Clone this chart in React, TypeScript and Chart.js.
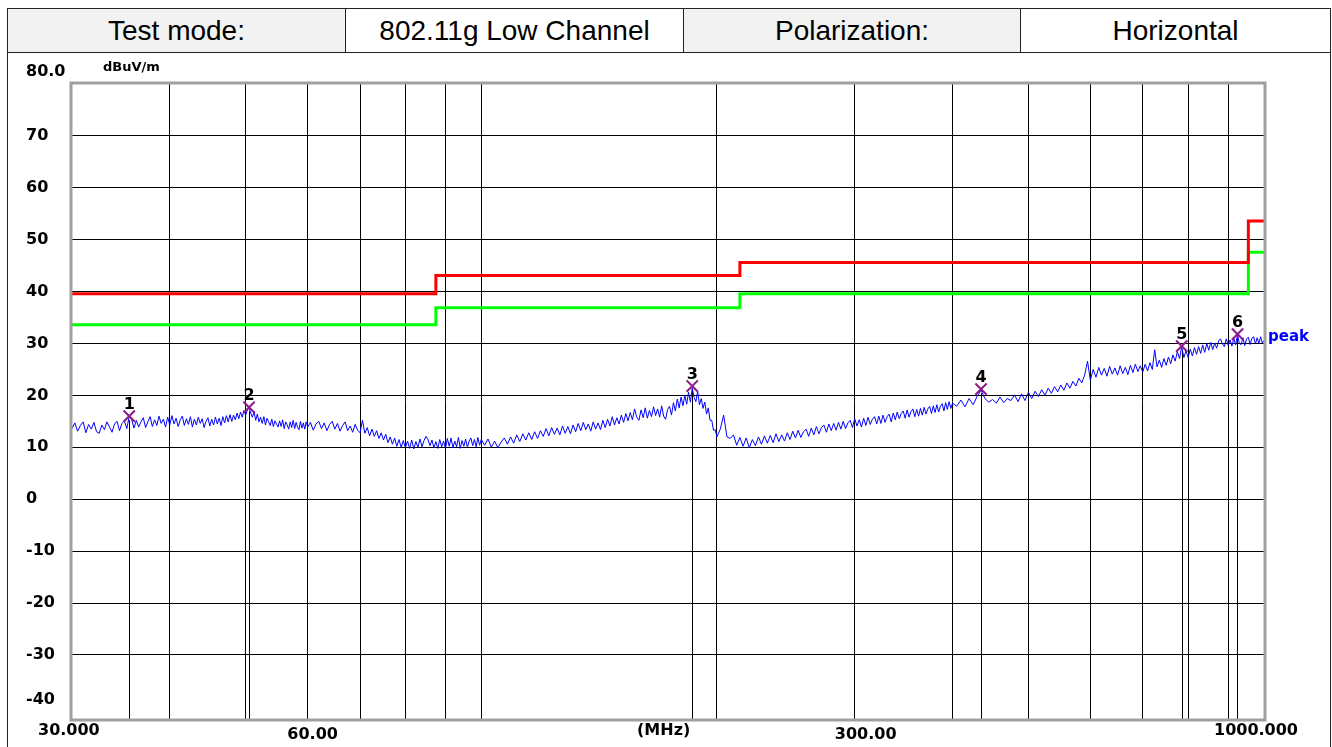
import React, { useEffect, useRef } from "react";
import { Chart, registerables } from "chart.js";

Chart.register(...registerables);

// ---- header ----
const HEADER_CELLS = ["Test mode:", "802.11g Low Channel", "Polarization:", "Horizontal"];

// ---- axes ----
const Y_TICKS = [80, 70, 60, 50, 40, 30, 20, 10, 0, -10, -20, -30, -40];
const Y_GRID = [70, 60, 50, 40, 30, 20, 10, 0, -10, -20, -30];
const X_GRID = [40, 50, 60, 70, 80, 90, 100, 200, 300, 400, 500, 600, 700, 800, 900];
const X_LABEL_TEXT = ["30.000", "60.00", "(MHz)", "300.00", "1000.000"];
const X_LABEL_FREQ = [30, 60, 171, 300, 1000];

// ---- limit lines (MHz, dBuV/m) ----
const LIMIT_FREQ = [30, 87.5, 87.5, 214, 214, 955, 955, 1000];
const LIMIT_QP = [39.6, 39.6, 43.1, 43.1, 45.6, 45.6, 53.6, 53.6];
const LIMIT_MARGIN = [33.6, 33.6, 36.9, 36.9, 39.6, 39.6, 47.6, 47.6];

// ---- peak trace: sweep segments (start MHz, step MHz) and read levels ----
const SEG_START = [30, 60.5, 101, 202, 405];
const SEG_STEP = [0.25, 0.5, 1, 2, 5];
const LEVELS_A = [
  13.6, 14.7, 13.1, 14.2, 14.9, 12.8, 14.4, 13.5, 14.8, 13.0, 12.7, 14.3, 13.4, 14.9, 13.9, 12.9, 14.5, 15.0, 13.2, 14.6,
  15.1, 13.6, 16.0, 15.4, 13.7, 15.2, 13.9, 14.9, 15.7, 13.8, 14.9, 15.9, 14.0, 15.3, 14.2, 16.0, 14.6, 15.4, 13.9, 15.8,
  14.3, 16.1, 14.5, 15.6, 14.0, 15.3, 16.0, 14.2, 15.5, 14.4, 15.9, 13.9, 15.4, 14.3, 15.8, 14.6, 15.5, 13.8, 15.0, 15.7,
  14.1, 15.4, 14.3, 15.8, 14.5, 15.6, 14.2, 15.9, 14.7, 16.1, 14.9, 16.3, 15.0, 16.2, 15.3, 16.6, 15.5, 16.8, 15.8, 17.1,
  16.2, 17.2, 17.6, 16.6, 15.8, 16.9, 15.2, 16.4, 14.9, 15.8, 14.6, 15.9, 14.3, 15.6, 14.9, 14.2, 15.4, 14.0, 15.1, 14.5,
  13.9, 15.1, 14.0, 15.3, 13.6, 14.9, 14.3, 13.5, 14.9, 13.8, 15.2, 13.6, 14.8, 13.9, 13.4, 15.0, 13.7, 14.7, 13.5, 14.9,
  13.9,
];
const LEVELS_B = [
  14.8, 13.3, 14.5, 15.0, 13.6, 14.7, 13.2, 14.4, 15.0, 13.5, 14.6, 13.1, 14.2, 14.9, 13.2, 14.1, 12.9, 14.4, 13.3, 12.8,
  15.2, 12.7, 13.8, 12.2, 13.5, 12.1, 13.2, 11.7, 12.8, 11.4, 12.5, 10.9, 12.0, 10.6, 11.8, 10.2, 11.5, 10.0, 11.3, 9.9,
  11.2, 9.8, 11.4, 9.7, 11.1, 10.0, 11.6, 10.1, 11.3, 12.1, 11.5, 10.3, 11.4, 9.9, 11.1, 9.8, 11.5, 10.1, 11.2, 9.7,
  11.7, 10.2, 11.8, 9.9, 11.2, 10.1, 11.9, 9.8, 11.3, 10.2, 11.6, 10.0, 11.2, 11.8, 10.3, 11.5, 10.1, 11.9, 10.4, 11.5,
];
const LEVELS_C = [
  10.4, 11.6, 10.0, 11.2, 9.9, 11.0, 11.8, 10.6, 12.0, 10.8, 12.4, 11.1, 12.6, 11.4, 12.8, 11.5, 13.0, 11.7, 13.2, 12.1,
  13.6, 12.2, 13.8, 12.5, 13.7, 12.4, 14.1, 12.7, 14.0, 12.6, 14.3, 13.0, 14.6, 13.2, 14.8, 13.4, 14.5, 13.1, 14.9, 13.5,
  14.7, 13.4, 15.2, 13.8, 15.4, 14.1, 15.9, 14.3, 15.7, 14.5, 16.2, 14.8, 16.5, 15.1, 16.7, 15.3, 17.4, 15.8, 15.2, 17.2,
  15.7, 17.6, 15.6, 17.1, 15.9, 17.8, 16.1, 17.4, 15.8, 18.0, 16.0, 15.4, 17.3, 17.9, 16.2, 18.6, 17.0, 19.3, 17.6, 19.7,
  18.0, 20.0, 18.3, 20.6, 18.7, 21.4, 19.6, 18.8, 20.8, 18.2, 19.4, 17.5, 18.7, 16.4, 17.6, 15.2, 15.2, 13.3, 13.4, 12.0,
];
const LEVELS_D = [
  13.5, 16.2, 12.0, 11.7, 12.4, 10.4, 11.9, 10.2, 11.8, 9.9, 11.5, 10.3, 12.0, 10.6, 12.2, 10.8, 12.3, 10.9, 12.6, 11.1,
  12.4, 11.2, 12.8, 11.5, 13.1, 11.8, 13.3, 11.9, 13.0, 13.5, 12.1, 13.7, 12.4, 14.0, 12.6, 13.8, 14.3, 12.9, 14.5, 13.2,
  14.6, 13.3, 14.8, 13.5, 15.0, 13.6, 14.7, 15.2, 13.8, 15.5, 14.1, 15.3, 13.9, 15.6, 14.2, 15.8, 14.4, 15.4, 15.9, 14.5,
  16.0, 14.6, 16.2, 14.8, 15.9, 16.4, 14.9, 16.6, 15.3, 16.8, 15.5, 16.5, 17.0, 15.6, 17.2, 15.8, 16.9, 17.4, 15.9, 17.3,
  16.0, 17.5, 16.2, 17.7, 16.4, 17.4, 17.9, 16.5, 18.0, 16.7, 18.2, 16.8, 17.9, 18.4, 17.0, 18.6, 17.3, 18.8, 17.5, 18.5,
];
const LEVELS_E = [
  17.9, 19.1, 17.8, 19.4, 18.2, 19.8, 21.0, 19.4, 18.7, 19.2, 18.5, 19.7, 18.6, 19.4, 19.0, 20.1, 18.8, 20.3, 19.0, 20.6,
  19.4, 20.8, 19.8, 21.1, 20.0, 21.4, 20.4, 21.7, 20.7, 22.0, 21.0, 22.4, 21.4, 22.7, 21.8, 23.3, 22.4, 23.9, 26.6, 22.9,
  25.0, 23.5, 25.4, 23.9, 25.2, 23.7, 25.6, 24.1, 25.3, 23.9, 25.7, 24.2, 25.4, 24.0, 25.8, 24.4, 26.0, 24.6, 25.7, 24.5,
  26.0, 24.7, 26.3, 25.0, 28.8, 25.5, 26.8, 25.4, 27.1, 25.8, 27.4, 26.1, 27.8, 26.6, 28.4, 27.1, 29.4, 27.3, 28.6, 27.3,
  28.9, 27.6, 29.2, 27.9, 29.4, 28.1, 29.7, 28.3, 30.0, 28.7, 30.2, 28.8, 30.1, 29.1, 30.5, 30.9, 29.9, 29.4, 30.9, 29.6,
  30.7, 29.5, 31.0, 29.7, 31.7, 30.0, 29.8, 31.1, 29.6, 30.9, 31.2, 29.8, 31.0, 31.3, 29.9, 31.1, 30.0, 31.3, 30.1, 30.6,
];
const SEG_LEVELS = [LEVELS_A, LEVELS_B, LEVELS_C, LEVELS_D, LEVELS_E];

// ---- markers ----
const MARKER_NO = ["1", "2", "3", "4", "5", "6"];
const MARKER_FREQ = [35.5, 50.5, 186.0, 435.0, 785.0, 925.0];
const MARKER_LEVEL = [16.0, 17.7, 21.8, 21.2, 29.5, 31.8];

const LABEL_FONT = 'bold 16px "DejaVu Sans", Verdana, sans-serif';

const overlayPlugin = {
  id: "overlay",
  beforeDatasetsDraw(chart: any) {
    const { ctx, chartArea, scales } = chart;
    const xs = scales.x;
    const ys = scales.y;
    ctx.save();
    ctx.strokeStyle = "#000";
    ctx.lineWidth = 1;
    MARKER_FREQ.forEach((f, i) => {
      const x = Math.round(xs.getPixelForValue(f)) + 0.5;
      const y = ys.getPixelForValue(MARKER_LEVEL[i]) + 4;
      ctx.beginPath();
      ctx.moveTo(x, y);
      ctx.lineTo(x, chartArea.bottom);
      ctx.stroke();
    });
    ctx.restore();
  },
  afterDraw(chart: any) {
    const { ctx, chartArea, scales } = chart;
    const xs = scales.x;
    const ys = scales.y;
    ctx.save();
    // plot frame
    ctx.strokeStyle = "#a0a0a0";
    ctx.lineWidth = 3;
    ctx.strokeRect(chartArea.left - 1, chartArea.top - 1, chartArea.right - chartArea.left + 2, chartArea.bottom - chartArea.top + 2);

    ctx.fillStyle = "#000";
    ctx.font = LABEL_FONT;
    // y labels
    ctx.textAlign = "left";
    ctx.textBaseline = "middle";
    Y_TICKS.forEach((v) => {
      let y = ys.getPixelForValue(v);
      if (v === 80) y -= 12;
      if (v === -40) y -= 7;
      ctx.fillText(v === 80 ? "80.0" : String(v), 18, y);
    });
    // unit
    ctx.font = 'bold 13px "DejaVu Sans", Verdana, sans-serif';
    ctx.textAlign = "left";
    ctx.fillText("dBuV/m", 95, 16);
    // x labels
    ctx.font = LABEL_FONT;
    ctx.textBaseline = "middle";
    X_LABEL_TEXT.forEach((t, i) => {
      const x = xs.getPixelForValue(X_LABEL_FREQ[i]);
      const low = i === 1 || i === 3;
      const y = chartArea.bottom + 12 + (low ? 4 : 0);
      if (i === 0) {
        ctx.textAlign = "left";
        ctx.fillText(t, x - 34, y);
      } else if (i === X_LABEL_TEXT.length - 1) {
        ctx.textAlign = "right";
        ctx.fillText(t, x + 34, y);
      } else {
        ctx.textAlign = "center";
        ctx.fillText(t, x + (i === 3 ? 11 : i === 1 ? 5 : 0), y);
      }
    });
    // marker numbers
    ctx.textAlign = "center";
    ctx.textBaseline = "alphabetic";
    MARKER_FREQ.forEach((f, i) => {
      ctx.fillText(MARKER_NO[i], xs.getPixelForValue(f), ys.getPixelForValue(MARKER_LEVEL[i]) - 7);
    });
    // trace name
    ctx.fillStyle = "#0000ff";
    ctx.font = 'bold 15px "DejaVu Sans", Verdana, sans-serif';
    ctx.textAlign = "left";
    ctx.textBaseline = "middle";
    const lastSeg = SEG_LEVELS[SEG_LEVELS.length - 1];
    ctx.fillText("peak", chartArea.right + 4, ys.getPixelForValue(lastSeg[lastSeg.length - 1]) - 3);
    ctx.restore();
  },
};

export default function App() {
  const canvasRef = useRef<HTMLCanvasElement | null>(null);

  useEffect(() => {
    const canvas = canvasRef.current;
    if (!canvas) return;
    const limitQp = LIMIT_FREQ.map((f, i) => ({ x: f, y: LIMIT_QP[i] }));
    const limitMg = LIMIT_FREQ.map((f, i) => ({ x: f, y: LIMIT_MARGIN[i] }));
    const trace: { x: number; y: number }[] = [];
    SEG_LEVELS.forEach((levels, s) => {
      levels.forEach((v, i) => trace.push({ x: SEG_START[s] + i * SEG_STEP[s], y: v }));
    });
    const markers = MARKER_FREQ.map((f, i) => ({ x: f, y: MARKER_LEVEL[i] }));

    const chart = new Chart(canvas, {
      type: "line",
      data: {
        datasets: [
          { data: trace, borderColor: "#0000ff", borderWidth: 1, pointRadius: 0, tension: 0, order: 3 },
          { data: limitMg, borderColor: "#00ff00", borderWidth: 3, pointRadius: 0, tension: 0, order: 2 },
          { data: limitQp, borderColor: "#ff0000", borderWidth: 3, pointRadius: 0, tension: 0, order: 1 },
          {
            data: markers,
            showLine: false,
            pointStyle: "crossRot",
            pointRadius: 8,
            borderColor: "#8b1a8b",
            backgroundColor: "#8b1a8b",
            pointBorderWidth: 2,
            order: 0,
          },
        ],
      },
      options: {
        animation: false,
        responsive: false,
        maintainAspectRatio: false,
        devicePixelRatio: 1,
        layout: { padding: { left: 64, right: 66, top: 32, bottom: 28 } },
        plugins: { legend: { display: false }, tooltip: { enabled: false } },
        scales: {
          x: {
            type: "logarithmic",
            min: 30,
            max: 1000,
            ticks: { display: false },
            grid: { color: "#000", lineWidth: 1, drawTicks: false },
            border: { display: false },
            afterBuildTicks: (s: any) => {
              s.ticks = X_GRID.map((v) => ({ value: v }));
            },
            afterFit: (s: any) => {
              s.height = 0;
            },
          },
          y: {
            type: "linear",
            min: -42.35,
            max: 80,
            ticks: { display: false },
            grid: { color: "#000", lineWidth: 1, drawTicks: false },
            border: { display: false },
            afterBuildTicks: (s: any) => {
              s.ticks = Y_GRID.map((v) => ({ value: v }));
            },
            afterFit: (s: any) => {
              s.width = 0;
            },
          },
        },
      },
      plugins: [overlayPlugin],
    });
    return () => chart.destroy();
  }, []);

  const cellBase: React.CSSProperties = {
    height: "100%",
    display: "flex",
    alignItems: "center",
    justifyContent: "center",
    fontSize: 28,
    color: "#000",
    boxSizing: "border-box",
  };

  return (
    <div
      style={{
        position: "fixed",
        left: 0,
        top: 0,
        width: 1332,
        height: 747,
        background: "#fff",
        fontFamily: '"Liberation Sans", Arial, sans-serif',
        overflow: "hidden",
      }}
    >
      <div
        style={{
          position: "absolute",
          left: 7,
          top: 8,
          width: 1324,
          height: 45,
          border: "1.5px solid #222",
          boxSizing: "border-box",
          display: "flex",
        }}
      >
        <div style={{ ...cellBase, width: 338, background: "#f2f2f2", borderRight: "1.5px solid #222" }}>{HEADER_CELLS[0]}</div>
        <div style={{ ...cellBase, width: 338, background: "#fff", borderRight: "1.5px solid #222" }}>{HEADER_CELLS[1]}</div>
        <div style={{ ...cellBase, width: 337, background: "#f2f2f2", borderRight: "1.5px solid #222" }}>{HEADER_CELLS[2]}</div>
        <div style={{ ...cellBase, flex: 1, background: "#fff" }}>{HEADER_CELLS[3]}</div>
      </div>
      <div
        style={{
          position: "absolute",
          left: 7,
          top: 52,
          width: 1324,
          height: 710,
          borderLeft: "1.5px solid #222",
          borderRight: "1.5px solid #222",
          boxSizing: "border-box",
        }}
      />
      <canvas
        ref={canvasRef}
        width={1322}
        height={695}
        style={{ position: "absolute", left: 8, top: 52, width: 1322, height: 695 }}
      />
    </div>
  );
}
